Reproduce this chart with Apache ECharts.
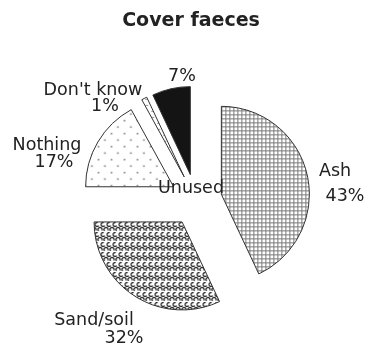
<!DOCTYPE html>
<html><head><meta charset="utf-8">
<script src="https://cdn.jsdelivr.net/npm/echarts@6/dist/echarts.min.js"></script>
<style>html,body{margin:0;padding:0;background:#fff}#c{width:366px;height:348px}</style>
</head><body><div id="c"></div>
<script>
const titleText = 'Cover faeces';
const categories = ['Ash', 'Sand/soil', 'Nothing', "Don't know", 'Unused'];
const values = [43, 32, 17, 1, 7];
const showName = [true, true, true, true, false];
const centerNote = 'Unused';

function tile(w, h, draw) {
  const c = document.createElement('canvas');
  c.width = w; c.height = h;
  const g = c.getContext('2d');
  g.fillStyle = '#fff'; g.fillRect(0, 0, w, h);
  draw(g);
  return { image: c, repeat: 'repeat' };
}
const patterns = [
  tile(4, 4, g => { g.fillStyle = '#7a7a7a'; g.fillRect(0, 0, 4, 1); g.fillRect(0, 0, 1, 4); }),
  tile(6, 10, g => {
    g.strokeStyle = '#2e2e2e'; g.lineWidth = 1.3;
    const ring = (x, y, a0) => { g.beginPath(); g.arc(x, y, 2, a0, a0 + Math.PI * 1.4); g.stroke(); };
    ring(3, 2.5, 0.6); ring(0, 7.5, 2.4); ring(6, 7.5, 2.4);
  }),
  tile(13, 13, g => { g.fillStyle = '#808080'; g.fillRect(3, 3, 1.6, 1.6); g.fillRect(9.5, 9.5, 1.6, 1.6); }),
  tile(6, 6, g => { g.fillStyle = '#999'; g.fillRect(1, 2, 3, 1); }),
  '#141414'
];
// label placement: [nameX, nameY, pctX, pctY]
const labelPlaces = [
  [335, 171, 345, 196],
  [94, 320, 124, 338],
  [47, 145, 54, 162],
  [93, 90, 105, 106],
  [0, 0, 182, 76]
];

const font = 'DejaVu Sans';
const fs = 17.5;
const data = categories.map((name, i) => ({
  name, value: values[i], selected: true,
  itemStyle: { color: patterns[i] }
}));

const textEl = (text, x, y) => ({
  type: 'text', x, y, z: 100,
  style: { text, fontFamily: font, fontSize: fs, fill: '#222', align: 'center', verticalAlign: 'middle' }
});
const graphics = [];
categories.forEach((name, i) => {
  const p = labelPlaces[i];
  if (showName[i]) graphics.push(textEl(name, p[0], p[1]));
  graphics.push(textEl(values[i] + '%', p[2], p[3]));
});
graphics.push(textEl(centerNote, 191, 188));

const chart = echarts.init(document.getElementById('c'), null, { renderer: 'canvas' });
chart.setOption({
  animation: false,
  backgroundColor: '#fff',
  title: {
    text: titleText, left: 186, top: 7, textAlign: 'center',
    textStyle: { fontFamily: font, fontWeight: 'bold', fontSize: 19, color: '#222' }
  },
  graphic: graphics,
  series: [{
    type: 'pie',
    center: [196, 200],
    radius: 88,
    startAngle: 90,
    clockwise: true,
    selectedMode: 'multiple',
    selectedOffset: 26,
    emphasis: { disabled: true },
    itemStyle: { borderColor: '#333', borderWidth: 1 },
    select: { itemStyle: { borderColor: '#333', borderWidth: 1 } },
    label: { show: false },
    labelLine: { show: false },
    data: data
  }]
});
</script></body></html>
